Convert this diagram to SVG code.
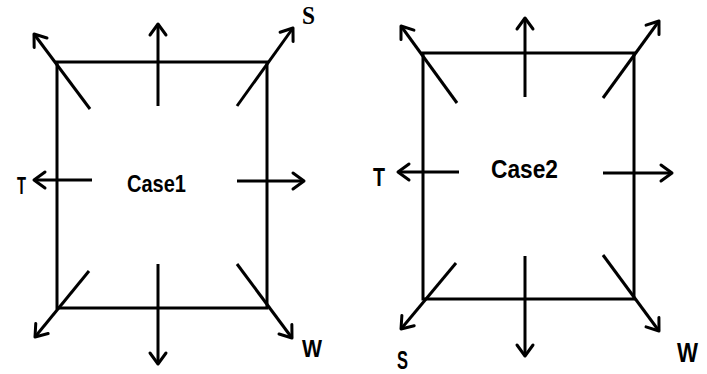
<svg xmlns="http://www.w3.org/2000/svg" width="707" height="374" viewBox="0 0 707 374">
<style>
.box{fill:none;stroke:#000;stroke-width:3}
.arr{fill:none;stroke:#000;stroke-width:3;marker-end:url(#ah)}
.lbl{font-family:"Liberation Sans",Arial,sans-serif;font-weight:bold;fill:#000}
.ser{font-family:"Liberation Serif","Times New Roman",serif;font-weight:bold;fill:#000}
</style>
<defs>
<marker id="ah" markerUnits="userSpaceOnUse" markerWidth="22" markerHeight="22" viewBox="-13 -11 15 22" refX="0" refY="0" orient="auto">
<path d="M-11,-8 L0,0 L-11,8" fill="none" stroke="#000" stroke-width="3" stroke-linecap="round" stroke-linejoin="round"/>
</marker>
</defs>
<rect width="707" height="374" fill="#fff"/>
<g id="case1">
<rect class="box" x="57" y="62" width="210" height="246"/>
<text class="lbl" x="127" y="192" font-size="24" textLength="59" lengthAdjust="spacingAndGlyphs">Case1</text>
</g>
<g id="case2">
<rect class="box" x="423" y="53" width="211" height="246"/>
<text class="lbl" x="491" y="178" font-size="26" textLength="67" lengthAdjust="spacingAndGlyphs">Case2</text>
</g>
<g id="labels">
<text class="lbl" x="17" y="194" font-size="23" textLength="9" lengthAdjust="spacingAndGlyphs">T</text>
<text class="ser" x="302" y="24" font-size="26" textLength="13" lengthAdjust="spacingAndGlyphs">S</text>
<text class="lbl" x="302" y="357" font-size="24" textLength="20" lengthAdjust="spacingAndGlyphs">W</text>
<text class="lbl" x="373" y="186" font-size="26" textLength="12" lengthAdjust="spacingAndGlyphs">T</text>
<text class="lbl" x="397" y="369" font-size="25" textLength="11" lengthAdjust="spacingAndGlyphs">S</text>
<text class="lbl" x="677" y="362" font-size="27" textLength="21" lengthAdjust="spacingAndGlyphs">W</text>
</g>
<g id="connectors">
<line class="arr" x1="90" y1="109" x2="34" y2="34"/>
<line class="arr" x1="158" y1="106" x2="158" y2="24"/>
<line class="arr" x1="237" y1="106" x2="293" y2="28"/>
<line class="arr" x1="92" y1="180" x2="34" y2="180"/>
<line class="arr" x1="237" y1="181" x2="304" y2="181"/>
<line class="arr" x1="89" y1="271" x2="35" y2="337"/>
<line class="arr" x1="158" y1="264" x2="158" y2="364"/>
<line class="arr" x1="237" y1="264" x2="292" y2="338"/>
<line class="arr" x1="457" y1="103" x2="401" y2="26"/>
<line class="arr" x1="525" y1="97" x2="525" y2="18"/>
<line class="arr" x1="603" y1="98" x2="659" y2="21"/>
<line class="arr" x1="459" y1="172" x2="398" y2="172"/>
<line class="arr" x1="603" y1="173" x2="672" y2="173"/>
<line class="arr" x1="456" y1="263" x2="401" y2="329"/>
<line class="arr" x1="525" y1="256" x2="525" y2="356"/>
<line class="arr" x1="603" y1="255" x2="659" y2="331"/>
</g>
</svg>
